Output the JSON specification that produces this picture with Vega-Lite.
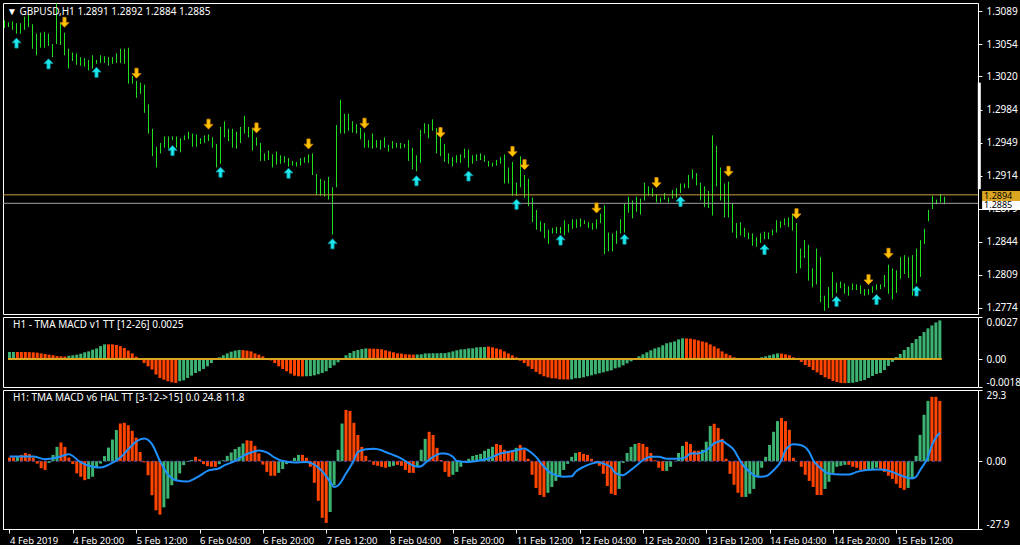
{
"$schema":"https://vega.github.io/schema/vega-lite/v6.json",
"background":"#000000",
"padding":{"left":2,"top":2,"right":0,"bottom":0},
"spacing":3,
"bounds":"flush",
"config":{"view":{"stroke":"#ffffff","strokeWidth":1},"axis":{"domainColor":"#ffffff","tickColor":"#ffffff","labelColor":"#ffffff","labelFont":"Noto Sans","labelFontSize":10,"grid":false,"labelOverlap":false},"text":{"font":"Noto Sans"}},
"datasets":{
"b":[
{"i":0,"h":1.3079,"l":1.3071,"m":0.00045,"mc":"g","k":1.5,"kc":"r"},
{"i":1,"h":1.3077,"l":1.3072,"m":0.00045,"mc":"g","k":1.6,"kc":"r"},
{"i":2,"h":1.3078,"l":1.3069,"m":0.00045,"mc":"r","k":2.0,"kc":"g"},
{"i":3,"h":1.3076,"l":1.3065,"m":0.00045,"mc":"r","k":2.6,"kc":"r"},
{"i":4,"h":1.3076,"l":1.3065,"m":0.00045,"mc":"r","k":3.4,"kc":"r"},
{"i":5,"h":1.3083,"l":1.3069,"m":0.00044,"mc":"r","k":2.9,"kc":"r"},
{"i":6,"h":1.3085,"l":1.3072,"m":0.00043,"mc":"r","k":1.5,"kc":"r"},
{"i":7,"h":1.3075,"l":1.3049,"m":0.00041,"mc":"r","k":-1.0,"kc":"r"},
{"i":8,"h":1.3065,"l":1.3042,"m":0.00036,"mc":"r","k":-2.9,"kc":"r"},
{"i":9,"h":1.3066,"l":1.3050,"m":0.00032,"mc":"r","k":-3.6,"kc":"r"},
{"i":10,"h":1.3067,"l":1.3050,"m":0.00028,"mc":"r","k":-0.7,"kc":"g"},
{"i":11,"h":1.3065,"l":1.3052,"m":0.00024,"mc":"r","k":2.6,"kc":"g"},
{"i":12,"h":1.3054,"l":1.3040,"m":0.00019,"mc":"r","k":5.9,"kc":"g"},
{"i":13,"h":1.3097,"l":1.3054,"m":0.00017,"mc":"r","k":7.7,"kc":"r"},
{"i":14,"h":1.3076,"l":1.3053,"m":0.00016,"mc":"r","k":5.9,"kc":"r"},
{"i":15,"h":1.3066,"l":1.3042,"m":0.00021,"mc":"g","k":1.5,"kc":"r"},
{"i":16,"h":1.3049,"l":1.3028,"m":0.00024,"mc":"g","k":-1.2,"kc":"r"},
{"i":17,"h":1.3045,"l":1.3036,"m":0.00028,"mc":"g","k":-5.0,"kc":"r"},
{"i":18,"h":1.3044,"l":1.3032,"m":0.00034,"mc":"g","k":-6.4,"kc":"r"},
{"i":19,"h":1.3040,"l":1.3031,"m":0.00043,"mc":"g","k":-7.8,"kc":"r"},
{"i":20,"h":1.3039,"l":1.3030,"m":0.00049,"mc":"g","k":-7.3,"kc":"g"},
{"i":21,"h":1.3037,"l":1.3026,"m":0.00060,"mc":"g","k":-6.4,"kc":"g"},
{"i":22,"h":1.3042,"l":1.3028,"m":0.00068,"mc":"g","k":-2.9,"kc":"g"},
{"i":23,"h":1.3037,"l":1.3033,"m":0.00083,"mc":"g","k":-1.0,"kc":"g"},
{"i":24,"h":1.3042,"l":1.3034,"m":0.00094,"mc":"g","k":2.1,"kc":"g"},
{"i":25,"h":1.3041,"l":1.3034,"m":0.00094,"mc":"r","k":5.6,"kc":"g"},
{"i":26,"h":1.3040,"l":1.3031,"m":0.00094,"mc":"r","k":8.9,"kc":"g"},
{"i":27,"h":1.3040,"l":1.3033,"m":0.00090,"mc":"r","k":12.8,"kc":"g"},
{"i":28,"h":1.3044,"l":1.3034,"m":0.00083,"mc":"r","k":15.5,"kc":"r"},
{"i":29,"h":1.3049,"l":1.3034,"m":0.00071,"mc":"r","k":15.8,"kc":"r"},
{"i":30,"h":1.3049,"l":1.3033,"m":0.00054,"mc":"r","k":14.8,"kc":"r"},
{"i":31,"h":1.3050,"l":1.3012,"m":0.00036,"mc":"r","k":12.5,"kc":"r"},
{"i":32,"h":1.3020,"l":1.3012,"m":0.00015,"mc":"r","k":9.7,"kc":"r"},
{"i":33,"h":1.3015,"l":1.2997,"m":-0.00002,"mc":"r","k":3.8,"kc":"r"},
{"i":34,"h":1.3013,"l":1.3001,"m":-0.00026,"mc":"r","k":-0.5,"kc":"r"},
{"i":35,"h":1.3011,"l":1.2981,"m":-0.00047,"mc":"r","k":-5.8,"kc":"r"},
{"i":36,"h":1.2990,"l":1.2959,"m":-0.00068,"mc":"r","k":-14.0,"kc":"r"},
{"i":37,"h":1.2964,"l":1.2935,"m":-0.00100,"mc":"r","k":-20.2,"kc":"r"},
{"i":38,"h":1.2945,"l":1.2923,"m":-0.00122,"mc":"r","k":-22.0,"kc":"r"},
{"i":39,"h":1.2949,"l":1.2938,"m":-0.00133,"mc":"r","k":-19.0,"kc":"g"},
{"i":40,"h":1.2956,"l":1.2944,"m":-0.00143,"mc":"r","k":-15.4,"kc":"g"},
{"i":41,"h":1.2956,"l":1.2943,"m":-0.00150,"mc":"r","k":-9.9,"kc":"g"},
{"i":42,"h":1.2956,"l":1.2952,"m":-0.00154,"mc":"r","k":-7.8,"kc":"g"},
{"i":43,"h":1.2956,"l":1.2944,"m":-0.00143,"mc":"g","k":-5.0,"kc":"g"},
{"i":44,"h":1.2954,"l":1.2939,"m":-0.00137,"mc":"g","k":-1.6,"kc":"g"},
{"i":45,"h":1.2957,"l":1.2952,"m":-0.00122,"mc":"g","k":-0.3,"kc":"g"},
{"i":46,"h":1.2961,"l":1.2953,"m":-0.00107,"mc":"g","k":0.5,"kc":"g"},
{"i":47,"h":1.2959,"l":1.2945,"m":-0.00090,"mc":"g","k":1.8,"kc":"r"},
{"i":48,"h":1.2958,"l":1.2945,"m":-0.00079,"mc":"g","k":0.8,"kc":"r"},
{"i":49,"h":1.2954,"l":1.2948,"m":-0.00064,"mc":"g","k":-1.2,"kc":"r"},
{"i":50,"h":1.2957,"l":1.2949,"m":-0.00047,"mc":"g","k":-2.0,"kc":"r"},
{"i":51,"h":1.2958,"l":1.2951,"m":-0.00026,"mc":"g","k":-2.3,"kc":"r"},
{"i":52,"h":1.2955,"l":1.2944,"m":-0.00005,"mc":"g","k":-2.3,"kc":"r"},
{"i":53,"h":1.2948,"l":1.2923,"m":0.00011,"mc":"g","k":-1.2,"kc":"g"},
{"i":54,"h":1.2966,"l":1.2927,"m":0.00024,"mc":"g","k":0.4,"kc":"g"},
{"i":55,"h":1.2972,"l":1.2955,"m":0.00036,"mc":"g","k":2.2,"kc":"g"},
{"i":56,"h":1.2964,"l":1.2951,"m":0.00047,"mc":"g","k":3.6,"kc":"g"},
{"i":57,"h":1.2964,"l":1.2944,"m":0.00054,"mc":"g","k":5.0,"kc":"g"},
{"i":58,"h":1.2961,"l":1.2943,"m":0.00058,"mc":"g","k":5.9,"kc":"g"},
{"i":59,"h":1.2966,"l":1.2949,"m":0.00057,"mc":"r","k":7.3,"kc":"g"},
{"i":60,"h":1.2978,"l":1.2959,"m":0.00054,"mc":"r","k":8.6,"kc":"r"},
{"i":61,"h":1.2966,"l":1.2955,"m":0.00049,"mc":"r","k":8.4,"kc":"r"},
{"i":62,"h":1.2965,"l":1.2941,"m":0.00036,"mc":"r","k":6.3,"kc":"r"},
{"i":63,"h":1.2955,"l":1.2946,"m":0.00028,"mc":"r","k":3.2,"kc":"r"},
{"i":64,"h":1.2949,"l":1.2930,"m":0.00017,"mc":"r","k":-1.4,"kc":"r"},
{"i":65,"h":1.2938,"l":1.2930,"m":0.00002,"mc":"r","k":-4.4,"kc":"r"},
{"i":66,"h":1.2941,"l":1.2931,"m":-0.00009,"mc":"r","k":-6.0,"kc":"r"},
{"i":67,"h":1.2937,"l":1.2923,"m":-0.00026,"mc":"r","k":-6.0,"kc":"r"},
{"i":68,"h":1.2940,"l":1.2926,"m":-0.00047,"mc":"r","k":-4.8,"kc":"g"},
{"i":69,"h":1.2936,"l":1.2927,"m":-0.00064,"mc":"r","k":-3.2,"kc":"g"},
{"i":70,"h":1.2935,"l":1.2928,"m":-0.00079,"mc":"r","k":-1.2,"kc":"g"},
{"i":71,"h":1.2933,"l":1.2924,"m":-0.00094,"mc":"r","k":0.0,"kc":"g"},
{"i":72,"h":1.2930,"l":1.2925,"m":-0.00107,"mc":"r","k":1.4,"kc":"g"},
{"i":73,"h":1.2929,"l":1.2924,"m":-0.00111,"mc":"r","k":2.6,"kc":"g"},
{"i":74,"h":1.2933,"l":1.2925,"m":-0.00112,"mc":"r","k":2.6,"kc":"r"},
{"i":75,"h":1.2934,"l":1.2928,"m":-0.00111,"mc":"g","k":1.4,"kc":"r"},
{"i":76,"h":1.2937,"l":1.2928,"m":-0.00110,"mc":"g","k":-2.3,"kc":"r"},
{"i":77,"h":1.2938,"l":1.2915,"m":-0.00105,"mc":"g","k":-8.9,"kc":"r"},
{"i":78,"h":1.2916,"l":1.2894,"m":-0.00098,"mc":"g","k":-16.3,"kc":"r"},
{"i":79,"h":1.2911,"l":1.2893,"m":-0.00090,"mc":"g","k":-23.3,"kc":"r"},
{"i":80,"h":1.2909,"l":1.2892,"m":-0.00079,"mc":"g","k":-25.4,"kc":"r"},
{"i":81,"h":1.2913,"l":1.2889,"m":-0.00058,"mc":"g","k":-20.9,"kc":"g"},
{"i":82,"h":1.2902,"l":1.2852,"m":-0.00041,"mc":"g","k":-9.9,"kc":"g"},
{"i":83,"h":1.2968,"l":1.2902,"m":-0.00021,"mc":"g","k":4.7,"kc":"g"},
{"i":84,"h":1.2995,"l":1.2959,"m":0.00002,"mc":"g","k":15.5,"kc":"g"},
{"i":85,"h":1.2980,"l":1.2959,"m":0.00024,"mc":"g","k":21.1,"kc":"r"},
{"i":86,"h":1.2980,"l":1.2962,"m":0.00039,"mc":"g","k":20.7,"kc":"r"},
{"i":87,"h":1.2972,"l":1.2960,"m":0.00051,"mc":"g","k":15.8,"kc":"r"},
{"i":88,"h":1.2969,"l":1.2959,"m":0.00058,"mc":"g","k":10.8,"kc":"r"},
{"i":89,"h":1.2965,"l":1.2953,"m":0.00064,"mc":"g","k":5.9,"kc":"r"},
{"i":90,"h":1.2960,"l":1.2944,"m":0.00068,"mc":"g","k":2.2,"kc":"r"},
{"i":91,"h":1.2952,"l":1.2944,"m":0.00067,"mc":"r","k":0.3,"kc":"r"},
{"i":92,"h":1.2959,"l":1.2943,"m":0.00066,"mc":"r","k":-1.5,"kc":"r"},
{"i":93,"h":1.2952,"l":1.2944,"m":0.00065,"mc":"r","k":-1.9,"kc":"r"},
{"i":94,"h":1.2952,"l":1.2942,"m":0.00062,"mc":"r","k":-2.3,"kc":"r"},
{"i":95,"h":1.2955,"l":1.2944,"m":0.00056,"mc":"r","k":-2.7,"kc":"r"},
{"i":96,"h":1.2947,"l":1.2940,"m":0.00049,"mc":"r","k":-2.3,"kc":"g"},
{"i":97,"h":1.2951,"l":1.2943,"m":0.00043,"mc":"r","k":-1.9,"kc":"g"},
{"i":98,"h":1.2949,"l":1.2944,"m":0.00036,"mc":"r","k":-1.5,"kc":"r"},
{"i":99,"h":1.2949,"l":1.2943,"m":0.00035,"mc":"r","k":-1.9,"kc":"r"},
{"i":100,"h":1.2948,"l":1.2944,"m":0.00030,"mc":"r","k":-3.6,"kc":"r"},
{"i":101,"h":1.2952,"l":1.2930,"m":0.00029,"mc":"r","k":-4.8,"kc":"r"},
{"i":102,"h":1.2944,"l":1.2921,"m":0.00028,"mc":"r","k":-4.8,"kc":"r"},
{"i":103,"h":1.2936,"l":1.2919,"m":0.00029,"mc":"g","k":-2.3,"kc":"g"},
{"i":104,"h":1.2963,"l":1.2928,"m":0.00030,"mc":"g","k":4.7,"kc":"g"},
{"i":105,"h":1.2970,"l":1.2959,"m":0.00036,"mc":"g","k":9.2,"kc":"g"},
{"i":106,"h":1.2969,"l":1.2954,"m":0.000365,"mc":"g","k":12.1,"kc":"r"},
{"i":107,"h":1.2974,"l":1.2962,"m":0.00037,"mc":"g","k":10.8,"kc":"r"},
{"i":108,"h":1.2965,"l":1.2938,"m":0.00037,"mc":"g","k":5.5,"kc":"r"},
{"i":109,"h":1.2959,"l":1.2935,"m":0.00038,"mc":"g","k":0.5,"kc":"r"},
{"i":110,"h":1.2948,"l":1.2929,"m":0.00038,"mc":"g","k":-4.4,"kc":"r"},
{"i":111,"h":1.2938,"l":1.2927,"m":0.00043,"mc":"g","k":-6.4,"kc":"r"},
{"i":112,"h":1.2934,"l":1.2924,"m":0.00049,"mc":"g","k":-5.6,"kc":"g"},
{"i":113,"h":1.2936,"l":1.2928,"m":0.00056,"mc":"g","k":-4.4,"kc":"g"},
{"i":114,"h":1.2937,"l":1.2928,"m":0.00062,"mc":"g","k":-2.3,"kc":"g"},
{"i":115,"h":1.2943,"l":1.2933,"m":0.00063,"mc":"g","k":0.0,"kc":"g"},
{"i":116,"h":1.2942,"l":1.2923,"m":0.00068,"mc":"g","k":1.0,"kc":"g"},
{"i":117,"h":1.2936,"l":1.2927,"m":0.00069,"mc":"g","k":2.2,"kc":"g"},
{"i":118,"h":1.2937,"l":1.2930,"m":0.00075,"mc":"g","k":2.6,"kc":"g"},
{"i":119,"h":1.2938,"l":1.2931,"m":0.00076,"mc":"g","k":3.0,"kc":"g"},
{"i":120,"h":1.2936,"l":1.2929,"m":0.00077,"mc":"g","k":4.3,"kc":"g"},
{"i":121,"h":1.2930,"l":1.2924,"m":0.00080,"mc":"r","k":5.1,"kc":"g"},
{"i":122,"h":1.2928,"l":1.2924,"m":0.00075,"mc":"r","k":5.9,"kc":"g"},
{"i":123,"h":1.2931,"l":1.2925,"m":0.00068,"mc":"r","k":7.1,"kc":"r"},
{"i":124,"h":1.2934,"l":1.2927,"m":0.00062,"mc":"r","k":6.7,"kc":"r"},
{"i":125,"h":1.2937,"l":1.2906,"m":0.00049,"mc":"r","k":4.7,"kc":"r"},
{"i":126,"h":1.2923,"l":1.2906,"m":0.00036,"mc":"r","k":4.3,"kc":"r"},
{"i":127,"h":1.2929,"l":1.2893,"m":0.00024,"mc":"r","k":4.3,"kc":"r"},
{"i":128,"h":1.2907,"l":1.2893,"m":0.00011,"mc":"r","k":5.5,"kc":"g"},
{"i":129,"h":1.2935,"l":1.2902,"m":-0.00011,"mc":"r","k":6.7,"kc":"r"},
{"i":130,"h":1.2915,"l":1.2891,"m":-0.00026,"mc":"r","k":4.7,"kc":"r"},
{"i":131,"h":1.2911,"l":1.2882,"m":-0.00047,"mc":"r","k":1.0,"kc":"r"},
{"i":132,"h":1.2891,"l":1.2865,"m":-0.00064,"mc":"r","k":-5.6,"kc":"r"},
{"i":133,"h":1.2878,"l":1.2857,"m":-0.00083,"mc":"r","k":-11.0,"kc":"r"},
{"i":134,"h":1.2866,"l":1.2855,"m":-0.00098,"mc":"r","k":-13.9,"kc":"r"},
{"i":135,"h":1.2864,"l":1.2848,"m":-0.00111,"mc":"r","k":-14.7,"kc":"r"},
{"i":136,"h":1.2857,"l":1.2842,"m":-0.00118,"mc":"r","k":-13.0,"kc":"g"},
{"i":137,"h":1.2859,"l":1.2853,"m":-0.00124,"mc":"r","k":-10.6,"kc":"g"},
{"i":138,"h":1.2860,"l":1.2853,"m":-0.00125,"mc":"r","k":-8.1,"kc":"g"},
{"i":139,"h":1.2860,"l":1.2853,"m":-0.00131,"mc":"r","k":-6.4,"kc":"g"},
{"i":140,"h":1.2867,"l":1.2851,"m":-0.00131,"mc":"r","k":-3.6,"kc":"g"},
{"i":141,"h":1.2863,"l":1.2854,"m":-0.00132,"mc":"r","k":-1.1,"kc":"g"},
{"i":142,"h":1.2868,"l":1.2858,"m":-0.00131,"mc":"g","k":1.8,"kc":"g"},
{"i":143,"h":1.2868,"l":1.2859,"m":-0.00124,"mc":"g","k":3.4,"kc":"g"},
{"i":144,"h":1.2869,"l":1.2860,"m":-0.00123,"mc":"g","k":3.8,"kc":"r"},
{"i":145,"h":1.2867,"l":1.2863,"m":-0.00118,"mc":"g","k":3.0,"kc":"r"},
{"i":146,"h":1.2865,"l":1.2859,"m":-0.00111,"mc":"g","k":2.6,"kc":"r"},
{"i":147,"h":1.2864,"l":1.2857,"m":-0.00105,"mc":"g","k":1.0,"kc":"r"},
{"i":148,"h":1.2868,"l":1.2858,"m":-0.00098,"mc":"g","k":-0.7,"kc":"r"},
{"i":149,"h":1.2874,"l":1.2864,"m":-0.00092,"mc":"g","k":-1.9,"kc":"r"},
{"i":150,"h":1.2883,"l":1.2831,"m":-0.00086,"mc":"g","k":-5.2,"kc":"r"},
{"i":151,"h":1.2854,"l":1.2834,"m":-0.00079,"mc":"g","k":-10.2,"kc":"r"},
{"i":152,"h":1.2853,"l":1.2834,"m":-0.00073,"mc":"g","k":-13.4,"kc":"r"},
{"i":153,"h":1.2856,"l":1.2842,"m":-0.00060,"mc":"g","k":-13.9,"kc":"r"},
{"i":154,"h":1.2868,"l":1.2853,"m":-0.00054,"mc":"g","k":-11.4,"kc":"g"},
{"i":155,"h":1.2885,"l":1.2854,"m":-0.00041,"mc":"g","k":-0.7,"kc":"g"},
{"i":156,"h":1.2892,"l":1.2875,"m":-0.00028,"mc":"g","k":3.4,"kc":"g"},
{"i":157,"h":1.2888,"l":1.2869,"m":-0.00015,"mc":"g","k":5.9,"kc":"g"},
{"i":158,"h":1.2892,"l":1.2876,"m":-0.00003,"mc":"g","k":7.1,"kc":"g"},
{"i":159,"h":1.2890,"l":1.2873,"m":0.00017,"mc":"g","k":7.5,"kc":"r"},
{"i":160,"h":1.2907,"l":1.2888,"m":0.00030,"mc":"g","k":7.1,"kc":"r"},
{"i":161,"h":1.2903,"l":1.2893,"m":0.00043,"mc":"g","k":5.9,"kc":"r"},
{"i":162,"h":1.2901,"l":1.2892,"m":0.00056,"mc":"g","k":3.4,"kc":"r"},
{"i":163,"h":1.2895,"l":1.2886,"m":0.00068,"mc":"g","k":0.4,"kc":"r"},
{"i":164,"h":1.2891,"l":1.2886,"m":0.00075,"mc":"g","k":-2.7,"kc":"r"},
{"i":165,"h":1.2896,"l":1.2889,"m":0.00088,"mc":"g","k":-4.0,"kc":"r"},
{"i":166,"h":1.2891,"l":1.2886,"m":0.00101,"mc":"g","k":-4.0,"kc":"g"},
{"i":167,"h":1.2899,"l":1.2890,"m":0.00107,"mc":"g","k":-2.3,"kc":"g"},
{"i":168,"h":1.2901,"l":1.2891,"m":0.00113,"mc":"g","k":0.0,"kc":"g"},
{"i":169,"h":1.2906,"l":1.2896,"m":0.00126,"mc":"g","k":3.4,"kc":"g"},
{"i":170,"h":1.2906,"l":1.2901,"m":0.00133,"mc":"g","k":6.3,"kc":"g"},
{"i":171,"h":1.2915,"l":1.2901,"m":0.00132,"mc":"r","k":8.0,"kc":"r"},
{"i":172,"h":1.2921,"l":1.2911,"m":0.00131,"mc":"r","k":7.1,"kc":"r"},
{"i":173,"h":1.2917,"l":1.2904,"m":0.00126,"mc":"r","k":4.3,"kc":"r"},
{"i":174,"h":1.2907,"l":1.2888,"m":0.00120,"mc":"r","k":4.3,"kc":"r"},
{"i":175,"h":1.2903,"l":1.2881,"m":0.00113,"mc":"r","k":4.7,"kc":"g"},
{"i":176,"h":1.2898,"l":1.2880,"m":0.00107,"mc":"r","k":8.0,"kc":"g"},
{"i":177,"h":1.2957,"l":1.2872,"m":0.00094,"mc":"r","k":14.5,"kc":"g"},
{"i":178,"h":1.2946,"l":1.2903,"m":0.00081,"mc":"r","k":15.4,"kc":"r"},
{"i":179,"h":1.2923,"l":1.2888,"m":0.00068,"mc":"r","k":13.7,"kc":"r"},
{"i":180,"h":1.2906,"l":1.2870,"m":0.00049,"mc":"r","k":9.2,"kc":"r"},
{"i":181,"h":1.2908,"l":1.2870,"m":0.00034,"mc":"r","k":1.0,"kc":"r"},
{"i":182,"h":1.2885,"l":1.2854,"m":0.00024,"mc":"r","k":-5.2,"kc":"r"},
{"i":183,"h":1.2864,"l":1.2848,"m":0.00011,"mc":"r","k":-9.7,"kc":"r"},
{"i":184,"h":1.2865,"l":1.2851,"m":0.00004,"mc":"r","k":-13.0,"kc":"r"},
{"i":185,"h":1.2859,"l":1.2849,"m":0.00002,"mc":"r","k":-14.7,"kc":"r"},
{"i":186,"h":1.2854,"l":1.2847,"m":0.00001,"mc":"r","k":-14.7,"kc":"g"},
{"i":187,"h":1.2853,"l":1.2840,"m":0.00001,"mc":"g","k":-13.4,"kc":"g"},
{"i":188,"h":1.2849,"l":1.2839,"m":0.00003,"mc":"g","k":-11.4,"kc":"g"},
{"i":189,"h":1.2853,"l":1.2843,"m":0.00006,"mc":"g","k":-6.4,"kc":"g"},
{"i":190,"h":1.2855,"l":1.2847,"m":0.00011,"mc":"g","k":-2.7,"kc":"g"},
{"i":191,"h":1.2854,"l":1.2847,"m":0.00017,"mc":"g","k":1.8,"kc":"g"},
{"i":192,"h":1.2857,"l":1.2851,"m":0.00024,"mc":"g","k":6.7,"kc":"g"},
{"i":193,"h":1.2867,"l":1.2854,"m":0.00030,"mc":"g","k":12.1,"kc":"g"},
{"i":194,"h":1.2866,"l":1.2859,"m":0.00036,"mc":"g","k":16.5,"kc":"g"},
{"i":195,"h":1.2869,"l":1.2862,"m":0.00035,"mc":"r","k":17.8,"kc":"r"},
{"i":196,"h":1.2870,"l":1.2860,"m":0.00030,"mc":"r","k":16.5,"kc":"r"},
{"i":197,"h":1.2874,"l":1.2856,"m":0.00024,"mc":"r","k":12.9,"kc":"r"},
{"i":198,"h":1.2864,"l":1.2811,"m":0.00011,"mc":"r","k":1.4,"kc":"r"},
{"i":199,"h":1.2837,"l":1.2816,"m":0.00002,"mc":"r","k":0.0,"kc":"r"},
{"i":200,"h":1.2846,"l":1.2827,"m":-0.00019,"mc":"r","k":-2.3,"kc":"r"},
{"i":201,"h":1.2841,"l":1.2803,"m":-0.00039,"mc":"r","k":-5.6,"kc":"r"},
{"i":202,"h":1.2816,"l":1.2796,"m":-0.00051,"mc":"r","k":-8.1,"kc":"r"},
{"i":203,"h":1.2837,"l":1.2799,"m":-0.00071,"mc":"r","k":-10.6,"kc":"r"},
{"i":204,"h":1.2828,"l":1.2780,"m":-0.00086,"mc":"r","k":-13.9,"kc":"r"},
{"i":205,"h":1.2787,"l":1.2771,"m":-0.00103,"mc":"r","k":-13.9,"kc":"r"},
{"i":206,"h":1.2796,"l":1.2774,"m":-0.00118,"mc":"r","k":-11.4,"kc":"g"},
{"i":207,"h":1.2812,"l":1.2785,"m":-0.00128,"mc":"r","k":-8.5,"kc":"g"},
{"i":208,"h":1.2801,"l":1.2790,"m":-0.00141,"mc":"r","k":-4.8,"kc":"g"},
{"i":209,"h":1.2802,"l":1.2795,"m":-0.00148,"mc":"r","k":-2.3,"kc":"g"},
{"i":210,"h":1.2800,"l":1.2789,"m":-0.00154,"mc":"r","k":-1.9,"kc":"g"},
{"i":211,"h":1.2797,"l":1.2787,"m":-0.00155,"mc":"r","k":-1.5,"kc":"g"},
{"i":212,"h":1.2800,"l":1.2793,"m":-0.00154,"mc":"g","k":-1.5,"kc":"r"},
{"i":213,"h":1.2799,"l":1.2793,"m":-0.00153,"mc":"g","k":-2.3,"kc":"r"},
{"i":214,"h":1.2798,"l":1.2789,"m":-0.00148,"mc":"g","k":-2.7,"kc":"r"},
{"i":215,"h":1.2794,"l":1.2787,"m":-0.00141,"mc":"g","k":-3.6,"kc":"r"},
{"i":216,"h":1.2794,"l":1.2788,"m":-0.00135,"mc":"g","k":-4.0,"kc":"r"},
{"i":217,"h":1.2797,"l":1.2790,"m":-0.00122,"mc":"g","k":-3.6,"kc":"g"},
{"i":218,"h":1.2799,"l":1.2793,"m":-0.00109,"mc":"g","k":-3.2,"kc":"g"},
{"i":219,"h":1.2799,"l":1.2794,"m":-0.00096,"mc":"g","k":-2.7,"kc":"g"},
{"i":220,"h":1.2809,"l":1.2796,"m":-0.00090,"mc":"g","k":-3.6,"kc":"r"},
{"i":221,"h":1.2820,"l":1.2789,"m":-0.00071,"mc":"g","k":-4.4,"kc":"r"},
{"i":222,"h":1.2816,"l":1.2783,"m":-0.00045,"mc":"g","k":-6.0,"kc":"r"},
{"i":223,"h":1.2814,"l":1.2790,"m":-0.00019,"mc":"g","k":-7.3,"kc":"r"},
{"i":224,"h":1.2828,"l":1.2805,"m":0.00013,"mc":"g","k":-9.3,"kc":"r"},
{"i":225,"h":1.2830,"l":1.2810,"m":0.00032,"mc":"g","k":-11.0,"kc":"r"},
{"i":226,"h":1.2828,"l":1.2806,"m":0.00058,"mc":"g","k":-11.8,"kc":"r"},
{"i":227,"h":1.2830,"l":1.2787,"m":0.00077,"mc":"g","k":-11.0,"kc":"g"},
{"i":228,"h":1.2837,"l":1.2800,"m":0.00103,"mc":"g","k":-6.9,"kc":"g"},
{"i":229,"h":1.2846,"l":1.2807,"m":0.00128,"mc":"g","k":2.2,"kc":"g"},
{"i":230,"h":1.2858,"l":1.2842,"m":0.00148,"mc":"g","k":10.8,"kc":"g"},
{"i":231,"h":1.2878,"l":1.2866,"m":0.00173,"mc":"g","k":19.1,"kc":"g"},
{"i":232,"h":1.2893,"l":1.2879,"m":0.00197,"mc":"g","k":24.8,"kc":"g"},
{"i":233,"h":1.2889,"l":1.2884,"m":0.00216,"mc":"g","k":26.5,"kc":"r"},
{"i":234,"h":1.2895,"l":1.2886,"m":0.00235,"mc":"g","k":26.5,"kc":"r"},
{"i":235,"h":1.2892,"l":1.2884,"m":0.00248,"mc":"g","k":24.8,"kc":"r"}
],
"s":[
{"i":0,"s":1.9},{"i":3,"s":1.9},{"i":6,"s":1.9},{"i":9,"s":0.8},{"i":12,"s":1.5},{"i":15,"s":2.9},{"i":18,"s":-0.5},{"i":21,"s":-2.3},{"i":23,"s":-2.6},{"i":25,"s":-1.5},{"i":28,"s":1.5},{"i":30,"s":4.9},{"i":32,"s":8.1},{"i":34,"s":9.3},{"i":36,"s":7.0},{"i":38,"s":0.1},{"i":40,"s":-5.4},{"i":42,"s":-7.8},{"i":45,"s":-8.4},{"i":46,"s":-7.8},{"i":48,"s":-6.0},{"i":50,"s":-4.0},{"i":53,"s":-2.9},{"i":54,"s":-1.9},{"i":57,"s":0.1},{"i":59,"s":2.2},{"i":61,"s":3.6},{"i":63,"s":4.4},{"i":65,"s":3.6},{"i":67,"s":1.5},{"i":69,"s":0.1},{"i":72,"s":-0.5},{"i":75,"s":-0.3},{"i":77,"s":-1.4},{"i":79,"s":-4.2},{"i":81,"s":-8.5},{"i":82,"s":-10.6},{"i":83,"s":-10.0},{"i":85,"s":-5.1},{"i":87,"s":0.4},{"i":88,"s":3.8},{"i":90,"s":4.9},{"i":92,"s":5.1},{"i":94,"s":4.5},{"i":95,"s":3.8},{"i":97,"s":2.5},{"i":99,"s":1.1},{"i":101,"s":-1.0},{"i":103,"s":-2.3},{"i":104,"s":-2.1},{"i":105,"s":-0.7},{"i":107,"s":1.8},{"i":109,"s":3.2},{"i":110,"s":3.2},{"i":112,"s":1.8},{"i":113,"s":0.1},{"i":116,"s":-0.3},{"i":118,"s":0.1},{"i":120,"s":0.7},{"i":122,"s":1.8},{"i":124,"s":3.2},{"i":126,"s":3.8},{"i":128,"s":4.5},{"i":130,"s":5.2},{"i":131,"s":4.5},{"i":133,"s":1.8},{"i":135,"s":-2.3},{"i":137,"s":-5.1},{"i":140,"s":-6.4},{"i":142,"s":-6.2},{"i":143,"s":-4.4},{"i":145,"s":-2.3},{"i":147,"s":-1.0},{"i":149,"s":-0.4},{"i":150,"s":-1.0},{"i":152,"s":-2.6},{"i":153,"s":-4.8},{"i":155,"s":-5.8},{"i":156,"s":-4.8},{"i":158,"s":-2.3},{"i":160,"s":0.4},{"i":162,"s":1.8},{"i":164,"s":1.8},{"i":166,"s":1.0},{"i":169,"s":1.0},{"i":171,"s":1.8},{"i":172,"s":3.2},{"i":174,"s":3.2},{"i":176,"s":4.5},{"i":178,"s":7.3},{"i":180,"s":8.4},{"i":181,"s":7.3},{"i":183,"s":4.6},{"i":184,"s":1.8},{"i":185,"s":-1.0},{"i":187,"s":-4.4},{"i":189,"s":-6.4},{"i":191,"s":-6.2},{"i":193,"s":-3.7},{"i":195,"s":0.4},{"i":196,"s":4.5},{"i":198,"s":7.0},{"i":200,"s":6.6},{"i":202,"s":3.8},{"i":203,"s":0.4},{"i":205,"s":-3.0},{"i":207,"s":-5.1},{"i":210,"s":-5.5},{"i":212,"s":-5.5},{"i":214,"s":-4.4},{"i":216,"s":-3.7},{"i":219,"s":-3.4},{"i":220,"s":-3.4},{"i":223,"s":-4.4},{"i":225,"s":-5.8},{"i":228,"s":-7.1},{"i":229,"s":-6.4},{"i":230,"s":-3.7},{"i":232,"s":1.8},{"i":233,"s":6.6},{"i":234,"s":9.7},{"i":235,"s":11.7}
],
"a":[
{"i":3,"p":1.3055,"t":"up"},{"i":11,"p":1.3033,"t":"up"},{"i":23,"p":1.3024,"t":"up"},{"i":42,"p":1.2941,"t":"up"},{"i":54,"p":1.2918,"t":"up"},{"i":71,"p":1.2917,"t":"up"},{"i":82,"p":1.2842,"t":"up"},{"i":103,"p":1.2909,"t":"up"},{"i":116,"p":1.2914,"t":"up"},{"i":128,"p":1.2884,"t":"up"},{"i":139,"p":1.2846,"t":"up"},{"i":155,"p":1.2847,"t":"up"},{"i":169,"p":1.2887,"t":"up"},{"i":190,"p":1.2836,"t":"up"},{"i":208,"p":1.2781,"t":"up"},{"i":218,"p":1.2783,"t":"up"},{"i":228,"p":1.2792,"t":"up"},
{"i":15,"p":1.3077,"t":"dn"},{"i":33,"p":1.3023,"t":"dn"},{"i":51,"p":1.2969,"t":"dn"},{"i":63,"p":1.2965,"t":"dn"},{"i":76,"p":1.2948,"t":"dn"},{"i":90,"p":1.2970,"t":"dn"},{"i":109,"p":1.2960,"t":"dn"},{"i":127,"p":1.2940,"t":"dn"},{"i":130,"p":1.2926,"t":"dn"},{"i":148,"p":1.2880,"t":"dn"},{"i":163,"p":1.2907,"t":"dn"},{"i":181,"p":1.2919,"t":"dn"},{"i":198,"p":1.2874,"t":"dn"},{"i":216,"p":1.2804,"t":"dn"},{"i":221,"p":1.2832,"t":"dn"}
]
},
"vconcat":[
{
"width":975,"height":311,
"layer":[
{"data":{"name":"b"},"mark":{"type":"rule","color":"#1fe01f","strokeWidth":1},"encoding":{"x":{"field":"i","type":"quantitative","scale":{"domain":[-0.375,243.375],"nice":false,"zero":false},"axis":null},"y":{"field":"h","type":"quantitative","scale":{"domain":[1.27676,1.30975],"nice":false,"zero":false},"axis":{"orient":"right","values":[1.2774,1.2809,1.2844,1.2879,1.2914,1.2949,1.2984,1.302,1.3054,1.3089],"tickCount":30,"format":".4f","tickSize":4,"labelPadding":4,"labelOverlap":false,"title":null}},"y2":{"field":"l"}}},
{"data":{"values":[{}]},"mark":{"type":"rule","color":"#c8a040","strokeWidth":1},"encoding":{"y":{"datum":1.2894}}},
{"data":{"values":[{}]},"mark":{"type":"rule","color":"#a0a0a0","strokeWidth":1},"encoding":{"y":{"datum":1.2885}}},
{"data":{"name":"a"},"mark":{"type":"point","filled":true,"size":100,"strokeWidth":0.8,"opacity":1},"encoding":{"x":{"field":"i","type":"quantitative","axis":null},"y":{"field":"p","type":"quantitative"},"shape":{"field":"t","type":"nominal","scale":{"domain":["up","dn"],"range":["M0,-1L0.9,-0.05L0.32,-0.05L0.32,1L-0.32,1L-0.32,-0.05L-0.9,-0.05Z","M0,1L0.9,0.05L0.32,0.05L0.32,-1L-0.32,-1L-0.32,0.05L-0.9,0.05Z"]},"legend":null},"fill":{"field":"t","type":"nominal","scale":{"domain":["up","dn"],"range":["#1ee8ec","#ffc400"]},"legend":null},"stroke":{"field":"t","type":"nominal","scale":{"domain":["up","dn"],"range":["#0a9ca8","#d88a00"]},"legend":null}}},
{"data":{"values":[{}]},"mark":{"type":"rule","color":"#ffffff","strokeWidth":3},"encoding":{"x":{"datum":243.7,"axis":null},"y":{"datum":1.3013},"y2":{"datum":1.29}}},
{"data":{"values":[{}]},"mark":{"type":"rect","color":"#daa520"},"encoding":{"x":{"datum":244.4,"axis":null},"x2":{"datum":254},"y":{"datum":1.28981},"y2":{"datum":1.28875}}},
{"data":{"values":[{}]},"mark":{"type":"rect","color":"#ffffff"},"encoding":{"x":{"datum":244.4,"axis":null},"x2":{"datum":254},"y":{"datum":1.28875},"y2":{"datum":1.2878}}},
{"data":{"values":[{}]},"mark":{"type":"text","text":"1.2894","align":"left","baseline":"middle","color":"#000000","fontSize":9,"dx":2},"encoding":{"x":{"datum":244.4,"axis":null},"y":{"datum":1.28928}}},
{"data":{"values":[{}]},"mark":{"type":"text","text":"1.2885","align":"left","baseline":"middle","color":"#000000","fontSize":9,"dx":2},"encoding":{"x":{"datum":244.4,"axis":null},"y":{"datum":1.28828}}},
{"data":{"values":[{}]},"mark":{"type":"text","text":"▼ GBPUSD,H1  1.2891 1.2892 1.2884 1.2885","align":"left","baseline":"middle","color":"#ffffff","fontSize":10,"dx":4},"encoding":{"x":{"datum":-0.375,"axis":null},"y":{"datum":1.3088}}}
]
},
{
"width":975,"height":70,
"layer":[
{"data":{"name":"b"},"mark":{"type":"bar","size":3},"encoding":{"x":{"field":"i","type":"quantitative","scale":{"domain":[-0.375,243.375],"nice":false,"zero":false},"axis":null},"y":{"field":"m","type":"quantitative","scale":{"domain":[-0.0018,0.0027],"nice":false,"zero":false},"axis":{"orient":"right","values":[0.0027,0,-0.0018],"tickCount":10,"labelExpr":"datum.value==0?'0.00':(datum.value<0?'-'+format(-datum.value,'.4f'):format(datum.value,'.4f'))","labelFlush":true,"labelOverlap":false,"tickSize":4,"labelPadding":4,"title":null}},"y2":{"datum":0},"color":{"field":"mc","type":"nominal","scale":{"domain":["g","r"],"range":["#3cb371","#ff4500"]},"legend":null}}},
{"data":{"values":[{}]},"mark":{"type":"rule","color":"#daa520","strokeWidth":2},"encoding":{"x":{"datum":-0.375,"axis":null},"x2":{"datum":235.5},"y":{"datum":0}}},
{"data":{"values":[{}]},"mark":{"type":"text","text":"H1 - TMA MACD v1 TT [12-26] 0.0025","align":"left","baseline":"middle","color":"#ffffff","fontSize":10,"dx":5},"encoding":{"x":{"datum":-0.375,"axis":null},"y":{"datum":0.00219}}}
]
},
{
"width":975,"height":139,
"layer":[
{"data":{"name":"b"},"mark":{"type":"bar","size":3},"encoding":{"x":{"field":"i","type":"quantitative","scale":{"domain":[-0.375,243.375],"nice":false,"zero":false},"axis":{"orient":"bottom","values":[0,16,32,48,64,80,96,112,128,144,160,176,192,208,224],"tickCount":40,"labelExpr":"['4 Feb 2019','4 Feb 20:00','5 Feb 12:00','6 Feb 04:00','6 Feb 20:00','7 Feb 12:00','8 Feb 04:00','8 Feb 20:00','11 Feb 12:00','12 Feb 04:00','12 Feb 20:00','13 Feb 12:00','14 Feb 04:00','14 Feb 20:00','15 Feb 12:00'][round(datum.value/16)]","labelAlign":"left","labelOverlap":false,"labelFlush":false,"labelFontSize":9.5,"tickSize":4,"labelPadding":2,"title":null}},"y":{"field":"k","type":"quantitative","scale":{"domain":[-27.9,29.3],"nice":false,"zero":false},"axis":{"orient":"right","values":[29.3,0,-27.9],"tickCount":10,"labelExpr":"datum.value==0?'0.00':(datum.value<0?'-'+format(-datum.value,'.1f'):format(datum.value,'.1f'))","labelFlush":true,"labelOverlap":false,"tickSize":4,"labelPadding":4,"title":null}},"y2":{"datum":0},"color":{"field":"kc","type":"nominal","scale":{"domain":["g","r"],"range":["#3cb371","#ff4500"]},"legend":null}}},
{"data":{"values":[{}]},"mark":{"type":"rule","color":"#5a4fb0","strokeWidth":1,"strokeDash":[3,3]},"encoding":{"x":{"datum":-0.375},"x2":{"datum":235.5},"y":{"datum":0}}},
{"data":{"name":"s"},"mark":{"type":"line","color":"#1e90ff","strokeWidth":2,"interpolate":"monotone"},"encoding":{"x":{"field":"i","type":"quantitative"},"y":{"field":"s","type":"quantitative"}}},
{"data":{"values":[{}]},"mark":{"type":"text","text":"H1: TMA MACD v6 HAL TT [3-12->15] 0.0 24.8 11.8","align":"left","baseline":"middle","color":"#ffffff","fontSize":10,"dx":5},"encoding":{"x":{"datum":-0.375},"y":{"datum":26.0}}}
]
}
]
}
